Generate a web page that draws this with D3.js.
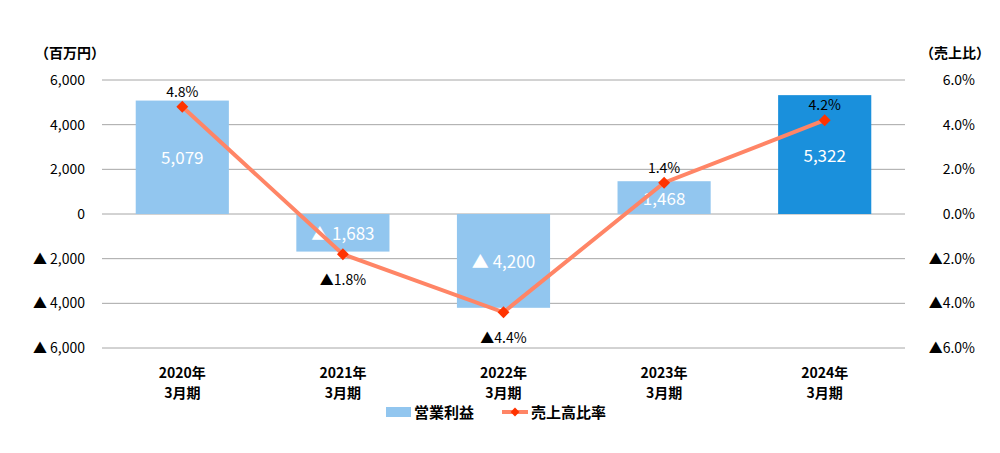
<!DOCTYPE html>
<html><head><meta charset="utf-8">
<script src="https://cdn.jsdelivr.net/npm/d3@7"></script>
<style>
body{margin:0;background:#fff;font-family:"Noto Sans CJK JP","Noto Sans",sans-serif;}
</style></head>
<body><svg id="chart" width="1000" height="453"></svg>
<script>
const categories = ["2020年\n3月期", "2021年\n3月期", "2022年\n3月期", "2023年\n3月期", "2024年\n3月期"];
const profit = [5079, -1683, -4200, 1468, 5322];
const ratio = [4.8, -1.8, -4.4, 1.4, 4.2];
const leftTicks = [6000, 4000, 2000, 0, -2000, -4000, -6000];
const rightTicks = [6, 4, 2, 0, -2, -4, -6];
const ratioLabelPos = ["above", "below", "below", "above", "above"];

const svg = d3.select("#chart");
const plotLeft = 102, plotRight = 905, plotTop = 80, plotBottom = 348;

const x = d3.scaleBand().domain(categories).range([plotLeft, plotRight]).paddingInner(0.42).paddingOuter(0.21);
const y = d3.scaleLinear().domain([-6000, 6000]).range([plotBottom, plotTop]);
const y2 = d3.scaleLinear().domain([-6, 6]).range([plotBottom, plotTop]);
const xc = (c) => x(c) + x.bandwidth() / 2;

const fmt = (v) => (v < 0 ? "▲ " : "") + d3.format(",")(Math.abs(v));
const fmtPct = (v) => (v < 0 ? "▲" : "") + Math.abs(v).toFixed(1) + "%";

// gridlines
svg.append("g").selectAll("line").data(leftTicks).join("line")
  .attr("x1", plotLeft).attr("x2", plotRight)
  .attr("y1", (d) => y(d)).attr("y2", (d) => y(d))
  .attr("stroke", "#a6a6a6").attr("stroke-width", 1);

// axis labels
svg.append("g").selectAll("text").data(leftTicks).join("text")
  .attr("x", 85).attr("y", (d) => y(d) + 5).attr("text-anchor", "end")
  .attr("font-size", 14).attr("fill", "#000").text(fmt);
svg.append("g").selectAll("text").data(rightTicks).join("text")
  .attr("x", 975).attr("y", (d) => y2(d) + 5).attr("text-anchor", "end")
  .attr("font-size", 14).attr("fill", "#000")
  .text((d) => (d < 0 ? "▲" : "") + Math.abs(d).toFixed(1) + "%");

svg.append("text").attr("x", 35).attr("y", 58).attr("font-size", 14).attr("font-weight", "bold").text("（百万円）");
svg.append("text").attr("x", 990).attr("y", 58).attr("text-anchor", "end").attr("font-size", 14).attr("font-weight", "bold").text("（売上比）");

// bars
svg.append("g").selectAll("rect").data(profit).join("rect")
  .attr("x", (d, i) => x(categories[i]))
  .attr("width", x.bandwidth())
  .attr("y", (d) => y(Math.max(0, d)))
  .attr("height", (d) => Math.abs(y(d) - y(0)))
  .attr("fill", (d, i) => (i === 4 ? "#1a90dc" : "#92c6ef"));

svg.append("g").selectAll("text").data(profit).join("text")
  .attr("x", (d, i) => xc(categories[i]))
  .attr("y", (d) => (y(d) + y(0)) / 2 + 7)
  .attr("text-anchor", "middle").attr("font-size", 17).attr("fill", "#fff")
  .text(fmt);

// line
const line = d3.line().x((d, i) => xc(categories[i])).y((d) => y2(d));
svg.append("path").datum(ratio).attr("d", line)
  .attr("fill", "none").attr("stroke", "#ff8566").attr("stroke-width", 4);
svg.append("g").selectAll("path").data(ratio).join("path")
  .attr("d", d3.symbol(d3.symbolDiamond2, 90))
  .attr("transform", (d, i) => `translate(${xc(categories[i])},${y2(d)})`)
  .attr("fill", "#ff3300");
svg.append("g").selectAll("text").data(ratio).join("text")
  .attr("x", (d, i) => xc(categories[i]))
  .attr("y", (d, i) => y2(d) + (ratioLabelPos[i] === "above" ? -10 : 31))
  .attr("text-anchor", "middle").attr("font-size", 14).attr("fill", "#000")
  .text(fmtPct);

// category labels
const cat = svg.append("g").selectAll("text").data(categories).join("text")
  .attr("x", (d) => xc(d)).attr("y", 378)
  .attr("text-anchor", "middle").attr("font-size", 14).attr("font-weight", "bold");
cat.selectAll("tspan").data((d) => d.split("\n")).join("tspan")
  .attr("x", function () { return this.parentNode.getAttribute("x"); })
  .attr("dy", (d, i) => (i === 0 ? 0 : 20)).text((d) => d);

// legend
const lg = svg.append("g").attr("font-size", 15).attr("font-weight", "bold");
lg.append("rect").attr("x", 386).attr("y", 407).attr("width", 25).attr("height", 10).attr("fill", "#92c6ef");
lg.append("text").attr("x", 414).attr("y", 418).text("営業利益");
lg.append("line").attr("x1", 502).attr("x2", 528).attr("y1", 412).attr("y2", 412).attr("stroke", "#ff8566").attr("stroke-width", 4);
lg.append("path").attr("d", d3.symbol(d3.symbolDiamond2, 50)).attr("transform", "translate(515,412)").attr("fill", "#ff3300");
lg.append("text").attr("x", 531).attr("y", 418).text("売上高比率");
</script></body></html>
